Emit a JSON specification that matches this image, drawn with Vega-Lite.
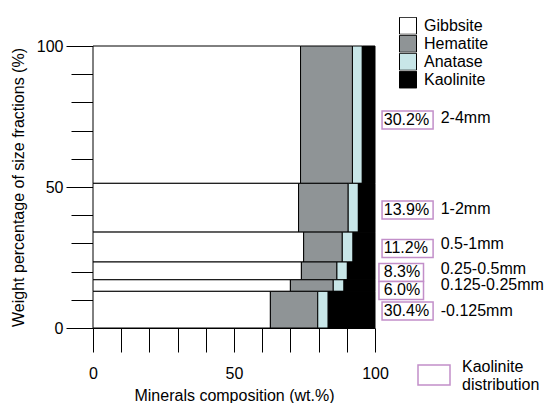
{
  "$schema": "https://vega.github.io/schema/vega-lite/v6.json",
  "width": 282,
  "height": 282,
  "autosize": {"type": "none"},
  "padding": {"left": 93, "top": 46, "right": 169, "bottom": 75},
  "background": "white",
  "config": {
    "font": "Liberation Sans",
    "view": {"stroke": null},
    "axis": {"domainColor": "black", "tickColor": "black", "labelColor": "black", "titleColor": "black", "grid": false, "labelFontSize": 16, "titleFontSize": 16, "titleFontWeight": "normal", "labelFlush": false, "labelOverlap": false},
    "legend": {"labelFontSize": 16, "labelColor": "black", "padding": 0}
  },
  "datasets": {
    "comp": [
      {"fraction": "2-4mm", "lower": 51.3, "upper": 100, "mineral": "Gibbsite", "value": 73.6},
      {"fraction": "2-4mm", "lower": 51.3, "upper": 100, "mineral": "Hematite", "value": 18.4},
      {"fraction": "2-4mm", "lower": 51.3, "upper": 100, "mineral": "Anatase", "value": 3.5},
      {"fraction": "2-4mm", "lower": 51.3, "upper": 100, "mineral": "Kaolinite", "value": 4.5},
      {"fraction": "1-2mm", "lower": 34.0, "upper": 51.3, "mineral": "Gibbsite", "value": 72.9},
      {"fraction": "1-2mm", "lower": 34.0, "upper": 51.3, "mineral": "Hematite", "value": 17.6},
      {"fraction": "1-2mm", "lower": 34.0, "upper": 51.3, "mineral": "Anatase", "value": 3.6},
      {"fraction": "1-2mm", "lower": 34.0, "upper": 51.3, "mineral": "Kaolinite", "value": 5.9},
      {"fraction": "0.5-1mm", "lower": 23.4, "upper": 34.0, "mineral": "Gibbsite", "value": 74.7},
      {"fraction": "0.5-1mm", "lower": 23.4, "upper": 34.0, "mineral": "Hematite", "value": 13.7},
      {"fraction": "0.5-1mm", "lower": 23.4, "upper": 34.0, "mineral": "Anatase", "value": 3.8},
      {"fraction": "0.5-1mm", "lower": 23.4, "upper": 34.0, "mineral": "Kaolinite", "value": 7.8},
      {"fraction": "0.25-0.5mm", "lower": 17.1, "upper": 23.4, "mineral": "Gibbsite", "value": 73.9},
      {"fraction": "0.25-0.5mm", "lower": 17.1, "upper": 23.4, "mineral": "Hematite", "value": 12.6},
      {"fraction": "0.25-0.5mm", "lower": 17.1, "upper": 23.4, "mineral": "Anatase", "value": 3.7},
      {"fraction": "0.25-0.5mm", "lower": 17.1, "upper": 23.4, "mineral": "Kaolinite", "value": 9.8},
      {"fraction": "0.125-0.25mm", "lower": 13.0, "upper": 17.1, "mineral": "Gibbsite", "value": 70.0},
      {"fraction": "0.125-0.25mm", "lower": 13.0, "upper": 17.1, "mineral": "Hematite", "value": 15.2},
      {"fraction": "0.125-0.25mm", "lower": 13.0, "upper": 17.1, "mineral": "Anatase", "value": 3.8},
      {"fraction": "0.125-0.25mm", "lower": 13.0, "upper": 17.1, "mineral": "Kaolinite", "value": 11.0},
      {"fraction": "-0.125mm", "lower": 0, "upper": 13.0, "mineral": "Gibbsite", "value": 62.9},
      {"fraction": "-0.125mm", "lower": 0, "upper": 13.0, "mineral": "Hematite", "value": 16.8},
      {"fraction": "-0.125mm", "lower": 0, "upper": 13.0, "mineral": "Anatase", "value": 3.7},
      {"fraction": "-0.125mm", "lower": 0, "upper": 13.0, "mineral": "Kaolinite", "value": 16.6}
    ],
    "notes": [
      {"fraction": "2-4mm", "pct": "30.2%", "boxy": 73.8, "namey": 74.5},
      {"fraction": "1-2mm", "pct": "13.9%", "boxy": 41.8, "namey": 42.2},
      {"fraction": "0.5-1mm", "pct": "11.2%", "boxy": 28.2, "namey": 29.8},
      {"fraction": "0.25-0.5mm", "pct": "8.3%", "boxy": 19.7, "namey": 20.9},
      {"fraction": "0.125-0.25mm", "pct": "6.0%", "boxy": 13.3, "namey": 15.2},
      {"fraction": "-0.125mm", "pct": "30.4%", "boxy": 6.0, "namey": 6.0}
    ]
  },
  "layer": [
    {
      "data": {"name": "comp"},
      "transform": [
        {"calculate": "indexof(['Gibbsite','Hematite','Anatase','Kaolinite'], datum.mineral)", "as": "ord"},
        {"stack": "value", "groupby": ["fraction"], "sort": [{"field": "ord", "order": "ascending"}], "as": ["x0", "x1"]}
      ],
      "mark": {"type": "rect", "stroke": "black", "strokeWidth": 1},
      "encoding": {
        "x": {
          "field": "x0", "type": "quantitative",
          "scale": {"domain": [0, 100], "nice": false},
          "axis": {"values": [0, 10, 20, 30, 40, 50, 60, 70, 80, 90, 100], "labelExpr": "datum.value % 50 === 0 ? datum.label : ''", "tickSize": 24, "labelPadding": 13, "title": "Minerals composition (wt.%)", "titlePadding": 6}
        },
        "x2": {"field": "x1"},
        "y": {
          "field": "lower", "type": "quantitative",
          "scale": {"domain": [0, 100], "nice": false},
          "axis": {"values": [0, 10, 20, 30, 40, 50, 60, 70, 80, 90, 100], "labelExpr": "datum.value % 50 === 0 ? datum.label : ''", "tickSize": {"condition": {"test": "datum.value % 50 === 0", "value": 27}, "value": 22}, "labelPadding": 3, "title": "Weight percentage of size fractions (%)", "titlePadding": 10}
        },
        "y2": {"field": "upper"},
        "fill": {
          "field": "mineral", "type": "nominal",
          "scale": {"domain": ["Gibbsite", "Hematite", "Anatase", "Kaolinite"], "range": ["#ffffff", "#8f9496", "#c8e6e8", "#000000"]},
          "legend": {"title": null, "orient": "none", "legendX": 306, "legendY": -29, "symbolType": "square", "symbolSize": 289, "symbolStrokeColor": "black", "symbolStrokeWidth": 1, "symbolOpacity": 1, "rowPadding": 0, "clipHeight": 17.5, "labelOffset": 7, "symbolOffset": 0}
        }
      }
    },
    {
      "data": {"name": "notes"},
      "transform": [{"filter": "length(datum.pct) > 4"}],
      "mark": {"type": "rect", "fill": "white", "strokeWidth": 1.5, "yOffset": -9, "y2Offset": 9},
      "encoding": {
        "x": {"datum": 102.5, "type": "quantitative", "axis": {"values": [0, 10, 20, 30, 40, 50, 60, 70, 80, 90, 100], "labelExpr": "datum.value % 50 === 0 ? datum.label : ''", "tickSize": 24, "labelPadding": 13, "title": "Minerals composition (wt.%)", "titlePadding": 6}},
        "x2": {"datum": 120.6},
        "y": {"field": "boxy", "type": "quantitative", "axis": {"values": [0, 10, 20, 30, 40, 50, 60, 70, 80, 90, 100], "labelExpr": "datum.value % 50 === 0 ? datum.label : ''", "tickSize": {"condition": {"test": "datum.value % 50 === 0", "value": 27}, "value": 22}, "labelPadding": 3, "title": "Weight percentage of size fractions (%)", "titlePadding": 10}},
        "y2": {"field": "boxy"},
        "stroke": {
          "datum": "Kaolinite distribution", "type": "nominal",
          "scale": {"range": ["#c28fc9"]},
          "legend": {"title": null, "orient": "none", "legendX": 324, "legendY": 312, "symbolType": "M-1,-0.625H1V0.625H-1Z", "symbolSize": 1024, "symbolFillColor": "white", "symbolStrokeWidth": 1.5, "labelOffset": 11, "labelBaseline": "bottom", "labelExpr": "['Kaolinite', 'distribution']", "labelLineHeight": 18}
        }
      }
    },
    {
      "data": {"name": "notes"},
      "transform": [{"filter": "length(datum.pct) <= 4"}],
      "mark": {"type": "rect", "fill": "white", "strokeWidth": 1.5, "yOffset": -9, "y2Offset": 9},
      "encoding": {
        "x": {"datum": 101.4, "type": "quantitative", "axis": {"values": [0, 10, 20, 30, 40, 50, 60, 70, 80, 90, 100], "labelExpr": "datum.value % 50 === 0 ? datum.label : ''", "tickSize": 24, "labelPadding": 13, "title": "Minerals composition (wt.%)", "titlePadding": 6}},
        "x2": {"datum": 117.2},
        "y": {"field": "boxy", "type": "quantitative", "axis": {"values": [0, 10, 20, 30, 40, 50, 60, 70, 80, 90, 100], "labelExpr": "datum.value % 50 === 0 ? datum.label : ''", "tickSize": {"condition": {"test": "datum.value % 50 === 0", "value": 27}, "value": 22}, "labelPadding": 3, "title": "Weight percentage of size fractions (%)", "titlePadding": 10}},
        "y2": {"field": "boxy"},
        "stroke": {"datum": "Kaolinite distribution", "type": "nominal"}
      }
    },
    {
      "data": {"name": "notes"},
      "mark": {"type": "text", "align": "left", "baseline": "middle", "fontSize": 16, "color": "black"},
      "encoding": {
        "x": {"datum": 103.1, "type": "quantitative", "axis": {"values": [0, 10, 20, 30, 40, 50, 60, 70, 80, 90, 100], "labelExpr": "datum.value % 50 === 0 ? datum.label : ''", "tickSize": 24, "labelPadding": 13, "title": "Minerals composition (wt.%)", "titlePadding": 6}},
        "y": {"field": "boxy", "type": "quantitative", "axis": {"values": [0, 10, 20, 30, 40, 50, 60, 70, 80, 90, 100], "labelExpr": "datum.value % 50 === 0 ? datum.label : ''", "tickSize": {"condition": {"test": "datum.value % 50 === 0", "value": 27}, "value": 22}, "labelPadding": 3, "title": "Weight percentage of size fractions (%)", "titlePadding": 10}},
        "text": {"field": "pct"}
      }
    },
    {
      "data": {"name": "notes"},
      "mark": {"type": "text", "align": "left", "baseline": "middle", "fontSize": 16, "color": "black"},
      "encoding": {
        "x": {"datum": 123.3, "type": "quantitative", "axis": {"values": [0, 10, 20, 30, 40, 50, 60, 70, 80, 90, 100], "labelExpr": "datum.value % 50 === 0 ? datum.label : ''", "tickSize": 24, "labelPadding": 13, "title": "Minerals composition (wt.%)", "titlePadding": 6}},
        "y": {"field": "namey", "type": "quantitative", "axis": {"values": [0, 10, 20, 30, 40, 50, 60, 70, 80, 90, 100], "labelExpr": "datum.value % 50 === 0 ? datum.label : ''", "tickSize": {"condition": {"test": "datum.value % 50 === 0", "value": 27}, "value": 22}, "labelPadding": 3, "title": "Weight percentage of size fractions (%)", "titlePadding": 10}},
        "text": {"field": "fraction"}
      }
    }
  ]
}
